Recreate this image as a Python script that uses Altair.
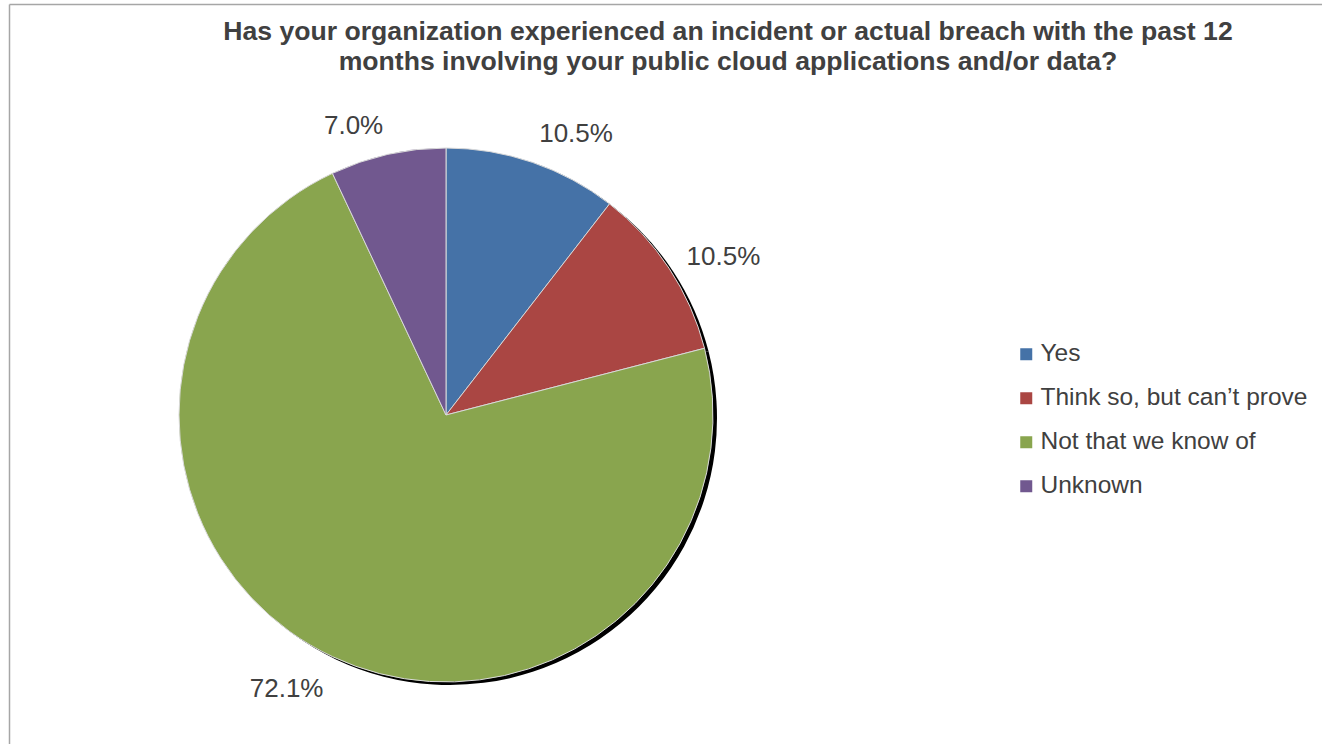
import altair as alt
import pandas as pd
import math

categories = ["Yes", "Think so, but can\u2019t prove", "Not that we know of", "Unknown"]
values = [10.5, 10.5, 72.1, 7.0]
colors = ["#4572A7", "#AA4643", "#89A54E", "#71588F"]
title_lines = [
    "Has your organization experienced an incident or actual breach with the past 12",
    "months involving your public cloud applications and/or data?",
]

df = pd.DataFrame({"category": categories, "value": values, "order": range(len(categories))})
df["label"] = [f"{v:.1f}%" for v in values]

W, H = 1322, 744
CX, CY, R = 446, 415, 267
FONT = "Liberation Sans"
TXT = "#404040"

base = alt.Chart(df).encode(
    theta=alt.Theta("value:Q", stack=True),
    order=alt.Order("order:Q"),
)

color_scale = alt.Scale(domain=categories, range=colors)

shadow = base.mark_arc(radius=R, color="black").encode(
    x=alt.value(CX + 4), y=alt.value(CY + 3)
)

pie = base.mark_arc(radius=R, stroke="#d9d9d9", strokeWidth=1).encode(
    x=alt.value(CX), y=alt.value(CY),
    color=alt.Color(
        "category:N", scale=color_scale, sort=categories,
        legend=alt.Legend(
            title=None, orient="none", legendX=1014, legendY=342,
            symbolType="square", symbolSize=144, symbolStrokeWidth=0,
            labelFont=FONT, labelFontSize=24.5, labelColor=TXT,
            rowPadding=19, labelOffset=2, labelLimit=400,
        ),
    ),
)

lab_base = alt.Chart(df).transform_joinaggregate(
    total="sum(value)"
).transform_window(
    cum="sum(value)", sort=[alt.SortField("order")], frame=[None, 0]
).transform_calculate(
    mid=f"(datum.cum - datum.value / 2) / datum.total * 2 * {math.pi}"
)

def labels(cats, align, baseline):
    return lab_base.transform_filter(
        alt.FieldOneOfPredicate(field="category", oneOf=cats)
    ).mark_text(
        radius=288, align=align, baseline=baseline, font=FONT, fontSize=26, color=TXT
    ).encode(
        theta=alt.Theta("mid:Q", scale=None),
        x=alt.value(CX), y=alt.value(CY), text="label:N",
    )

lab1 = labels(categories[:1], "left", "alphabetic")
lab2 = labels(categories[1:2], "left", "middle")
lab3 = labels(categories[2:3], "right", "top")
lab4 = labels(categories[3:], "right", "alphabetic")

tdf = pd.DataFrame({"t": title_lines, "i": [0, 1]})
title = alt.Chart(tdf).mark_text(
    font=FONT, fontSize=26.6, fontWeight="bold", color=TXT, align="center", baseline="middle"
).encode(
    x=alt.value(728),
    y=alt.Y("i:Q", scale=alt.Scale(domain=[0, 1], range=[32, 62]), axis=None),
    text="t:N",
)

border = alt.Chart(pd.DataFrame({"a": [0]})).mark_rule(color="#a6a6a6", strokeWidth=1.5).encode(
    x=alt.value(9.5), x2=alt.value(W), y=alt.value(4.5)
)
border2 = alt.Chart(pd.DataFrame({"a": [0]})).mark_rule(color="#a6a6a6", strokeWidth=1.5).encode(
    x=alt.value(9.5), y=alt.value(4.5), y2=alt.value(H)
)

chart = alt.layer(
    border, border2, shadow, pie, lab1, lab2, lab3, lab4, title
).properties(
    width=W, height=H, autosize="none", padding=0, background="white"
).configure_view(stroke=None)

chart.save("out.html", embed_options={"renderer": "svg", "actions": False})
